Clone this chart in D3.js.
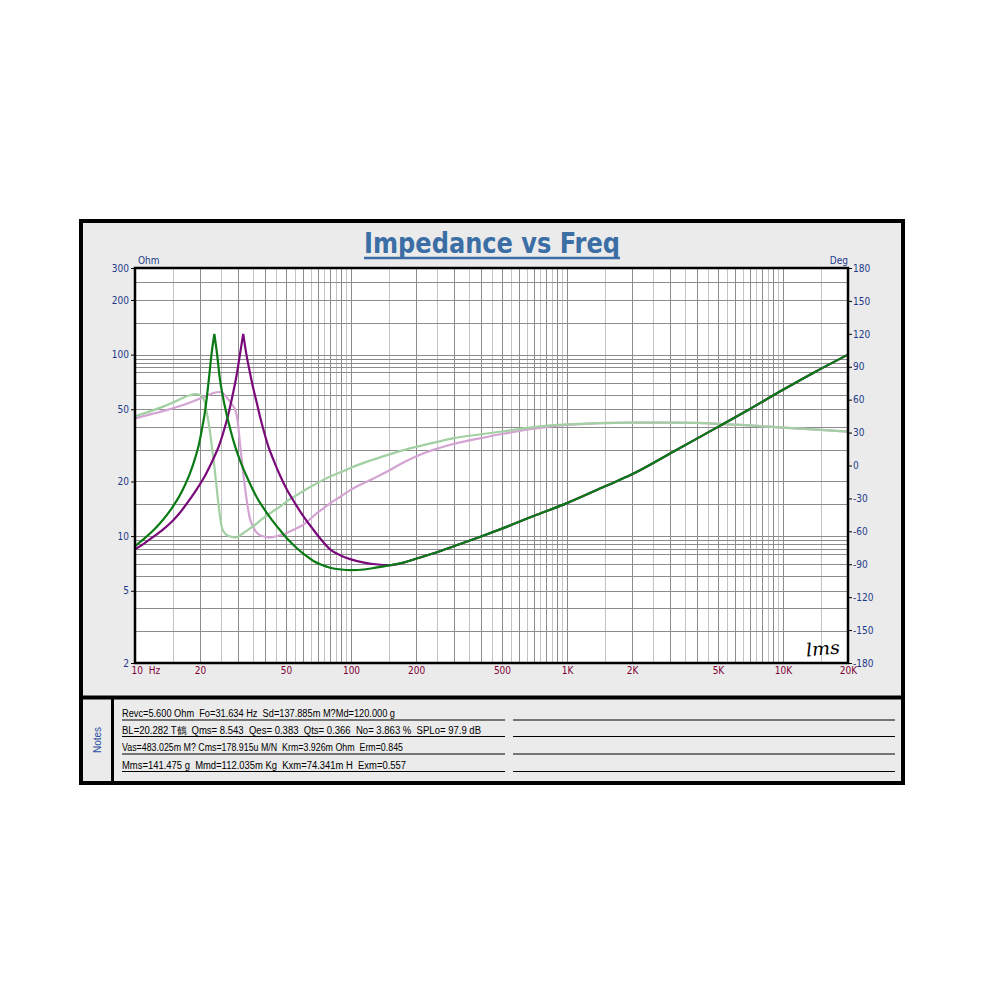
<!DOCTYPE html>
<html><head><meta charset="utf-8">
<script src="https://cdn.jsdelivr.net/npm/d3@7"></script>
<style>body{margin:0;background:#fff}</style>
</head><body>
<svg id="c" width="1000" height="1000"></svg>
<script>
// ---------- data ----------
const chartTitle = "Impedance vs Freq";
const ohmTicks = [2, 5, 10, 20, 50, 100, 200, 300];
const degTicks = [-180, -150, -120, -90, -60, -30, 0, 30, 60, 90, 120, 150, 180];
const freqTicks = [10, 20, 50, 100, 200, 500, 1000, 2000, 5000, 10000, 20000];
const freqTickLabels = ["10  Hz", "20", "50", "100", "200", "500", "1K", "2K", "5K", "10K", "20K"];
const ohmGridValues = [3, 4, 5, 6, 7, 8, 8.5, 9, 9.5, 10, 15, 20, 30, 40, 50, 60, 70, 80, 85, 90, 95, 100, 150, 200, 250];

// Impedance magnitude, added-mass measurement (dark green), Ohm
const zGreenFreq = [10, 11, 12, 13, 14, 15, 16, 17, 18, 19, 19.7, 20.4, 21, 21.5, 22, 22.6, 23.3, 24, 24.7, 25.5, 26.6, 27.5, 29, 30.5, 32.9, 35, 37, 39.3, 43, 46.9, 51, 56, 61, 67, 73, 80, 90, 100, 115, 130, 150, 175, 200, 250, 300, 400, 500, 700, 1000, 1500, 2000, 3000, 5000, 7000, 10000, 14000, 20000];
const zGreen     = [8.8, 9.65, 10.6, 11.7, 13.0, 14.6, 16.5, 19.0, 22.3, 27.0, 31.5, 38.7, 47, 58, 74, 100, 130, 100, 74, 59, 46.5, 39.5, 31.5, 26.5, 21.3, 18.2, 16, 14.3, 12.3, 10.8, 9.6, 8.6, 7.9, 7.3, 6.95, 6.7, 6.55, 6.5, 6.55, 6.7, 6.9, 7.15, 7.5, 8.15, 8.8, 9.95, 11.0, 12.9, 15.2, 18.8, 21.9, 28.5, 40, 50, 64, 80, 100];

// Impedance magnitude, free-air measurement (purple), Ohm
const zPurpleFreq = [10, 11, 12, 13.5, 15, 16.1, 17.5, 19.3, 21, 23, 24.5, 25.6, 26.6, 27.5, 28.5, 29.6, 30.6, 31.7, 32.8, 34.1, 35.3, 36.6, 38, 39.3, 41.5, 43.7, 47, 50.4, 55, 60.1, 66, 71.8, 80, 90, 100, 115, 130, 150, 175, 200, 250, 300, 400, 500, 700, 1000, 1500, 2000, 3000, 5000, 7000, 10000, 14000, 20000];
const zPurple     = [8.45, 9.1, 9.8, 10.9, 12.2, 13.4, 15.3, 18.1, 21.3, 26.5, 31.5, 37, 43.5, 51, 62, 78, 100, 130, 100, 79, 65, 54.4, 45, 38.7, 31, 26.4, 21.5, 18.1, 15.2, 12.9, 11.1, 9.75, 8.45, 7.8, 7.45, 7.15, 7.0, 6.92, 7.15, 7.5, 8.15, 8.8, 9.95, 11.0, 12.9, 15.2, 18.8, 21.9, 28.5, 40, 50, 64, 80, 100];

// Phase, added-mass measurement (light green), degrees
const pGreenFreq = [10, 11, 12, 13, 14, 15, 16, 17, 18, 19, 20, 20.6, 21.1, 21.6, 22.2, 22.8, 23.4, 24.3, 25.2, 25.9, 26.6, 28, 29.6, 31, 32.9, 36, 39.3, 43, 46.9, 51, 56.1, 61, 66.9, 73, 80, 90, 100, 125, 150, 175, 200, 250, 300, 400, 500, 700, 1000, 2000, 3000, 5000, 7000, 10000, 15000, 20000];
const pGreen     = [45, 47.5, 50, 52.5, 55, 57.5, 60, 62.5, 64, 65, 64.5, 62, 57, 46, 32, 14, -4, -34, -56, -61, -63.5, -65, -65.5, -63, -59.5, -54, -48, -42.5, -37.5, -32, -27, -22.5, -18, -14, -10, -6, -2, 5, 10, 14, 17, 21.5, 25, 28.5, 31, 35, 37.5, 39, 39, 38, 36.5, 34.5, 32.5, 30.8];

// Phase, free-air measurement (light purple), degrees
const pPurpleFreq = [10, 12, 14, 16, 18, 20, 22, 23.5, 24.5, 25.5, 26.6, 27.6, 28.5, 29.2, 29.8, 30.6, 31.7, 32.9, 34, 35.3, 36.5, 37.9, 40, 42.4, 46, 50.4, 55, 60.1, 64.5, 69.3, 74.5, 80, 90, 100, 125, 150, 175, 200, 225, 250, 300, 400, 500, 700, 1000, 2000, 3000, 5000, 7000, 10000, 15000, 20000];
const pPurple     = [43, 47, 50.5, 54, 57.5, 61, 64.5, 66.5, 67, 66, 62, 58, 54, 50, 42, 20.5, -7, -31.5, -48, -56, -61, -63.5, -65, -65.5, -64, -61.5, -58, -54, -49, -43.6, -39, -34.5, -28, -22, -12.5, -4.5, 2.8, 8.2, 12.3, 15.3, 19.8, 25, 28.7, 33.5, 37, 39, 39, 38, 36.5, 34.5, 32.5, 30.8];

const notesLines = [
  "Revc=5.600 Ohm  Fo=31.634 Hz  Sd=137.885m M?Md=120.000 g",
  "BL=20.282 T鶴  Qms= 8.543  Qes= 0.383  Qts= 0.366  No= 3.863 %  SPLo= 97.9 dB",
  "Vas=483.025m M? Cms=178.915u M/N  Krm=3.926m Ohm  Erm=0.845",
  "Mms=141.475 g  Mmd=112.035m Kg  Kxm=74.341m H  Exm=0.557"
];
const notesWidths = [273, 359, 281, 284];

// ---------- layout ----------
const svg = d3.select("#c");
const P = {l: 135, r: 848, t: 268, b: 663};
const narrow = "'Liberation Sans Narrow','DejaVu Sans Condensed','Arial Narrow',Arial,sans-serif";
const sans = "'Liberation Sans',Arial,sans-serif";

// panel
svg.append("rect").attr("x", 81).attr("y", 221).attr("width", 822).attr("height", 562)
  .attr("fill", "#ebebeb").attr("stroke", "#000").attr("stroke-width", 4);
svg.append("line").attr("x1", 81).attr("x2", 903).attr("y1", 697.5).attr("y2", 697.5)
  .attr("stroke", "#000").attr("stroke-width", 4);
svg.append("line").attr("x1", 112.5).attr("x2", 112.5).attr("y1", 697).attr("y2", 782)
  .attr("stroke", "#000").attr("stroke-width", 3);

// scales
const x = d3.scaleLog().domain([10, 20000]).range([P.l, P.r]);
const yZ = d3.scaleLog().domain([2, 300]).range([P.b, P.t]);
const yP = d3.scaleLinear().domain([-180, 180]).range([P.b, P.t]);

// plot background
svg.append("rect").attr("x", P.l).attr("y", P.t).attr("width", P.r - P.l).attr("height", P.b - P.t).attr("fill", "#fff");

// vertical grid: 1.0, 1.5, ... 9.5 per decade
const vGrid = [];
[10, 100, 1000, 10000].forEach(dec => {
  for (let k = 2; k < 20; k++) {
    const f = dec * k / 2;
    if (f > 10 && f < 20000) vGrid.push({f, major: k % 2 === 0});
  }
});
const g = svg.append("g");
g.selectAll("line.v").data(vGrid).join("line")
  .attr("x1", d => Math.round(x(d.f)) + 0.5).attr("x2", d => Math.round(x(d.f)) + 0.5)
  .attr("y1", P.t).attr("y2", P.b)
  .attr("stroke", d => d.major ? "#8c8c8c" : "#c4c4c4").attr("stroke-width", 1);
g.selectAll("line.h").data(ohmGridValues).join("line")
  .attr("y1", d => Math.round(yZ(d)) + 0.5).attr("y2", d => Math.round(yZ(d)) + 0.5)
  .attr("x1", P.l).attr("x2", P.r)
  .attr("stroke", "#8c8c8c").attr("stroke-width", 1);

// curves
svg.append("clipPath").attr("id", "pc").append("rect")
  .attr("x", P.l).attr("y", P.t).attr("width", P.r - P.l).attr("height", P.b - P.t);
const cg = svg.append("g").attr("clip-path", "url(#pc)");
const lineZ = d3.line().x(d => x(d[0])).y(d => yZ(d[1])).curve(d3.curveMonotoneX);
const lineP = d3.line().x(d => x(d[0])).y(d => yP(d[1])).curve(d3.curveMonotoneX);
const zip = (a, b) => a.map((v, i) => [v, b[i]]);
// impedance drawn as two smooth halves meeting at the sharp resonance peak
function peakPath(fr, z) {
  const pts = zip(fr, z);
  const k = d3.maxIndex(z);
  return lineZ(pts.slice(0, k + 1)) + lineZ(pts.slice(k));
}
cg.append("path").attr("d", lineP(zip(pPurpleFreq, pPurple))).attr("fill", "none").attr("stroke", "#d3a3d3").attr("stroke-width", 2.2);
cg.append("path").attr("d", lineP(zip(pGreenFreq, pGreen))).attr("fill", "none").attr("stroke", "#a3d0a3").attr("stroke-width", 2.2);
cg.append("path").attr("d", peakPath(zPurpleFreq, zPurple)).attr("fill", "none").attr("stroke", "#7a0a7a").attr("stroke-width", 2.2).attr("stroke-linejoin", "round");
cg.append("path").attr("d", peakPath(zGreenFreq, zGreen)).attr("fill", "none").attr("stroke", "#0a7a14").attr("stroke-width", 2.2).attr("stroke-linejoin", "round");

// frame
svg.append("rect").attr("x", P.l).attr("y", P.t).attr("width", P.r - P.l).attr("height", P.b - P.t)
  .attr("fill", "none").attr("stroke", "#000").attr("stroke-width", 2.5);

// axes
const axL = svg.append("g").attr("transform", `translate(${P.l - 1},0)`)
  .call(d3.axisLeft(yZ).tickValues(ohmTicks).tickFormat(d => d).tickSize(3).tickPadding(2));
const axR = svg.append("g").attr("transform", `translate(${P.r + 1},0)`)
  .call(d3.axisRight(yP).tickValues(degTicks).tickFormat(d => d).tickSize(3).tickPadding(1));
const axB = svg.append("g").attr("transform", `translate(0,${P.b})`)
  .call(d3.axisBottom(x).tickValues(freqTicks).tickFormat((d, i) => freqTickLabels[i]).tickSize(0).tickPadding(4));
[axL, axR, axB].forEach(a => { a.select(".domain").remove(); a.selectAll("text").attr("font-family", narrow).attr("font-size", 10); });
axL.selectAll("line").attr("stroke", "#000");
axR.selectAll("line").attr("stroke", "#000");
axL.selectAll("text").attr("fill", "#1c3a8a");
axR.selectAll("text").attr("fill", "#1c3a8a");
axB.selectAll("text").attr("fill", "#800036").style("white-space", "pre");
axB.selectAll("text").filter((d, i) => i === 0).attr("text-anchor", "start").attr("dx", -4);

svg.append("text").attr("x", 138).attr("y", 264).text("Ohm")
  .attr("font-family", narrow).attr("font-size", 10).attr("fill", "#1c3a8a");
svg.append("text").attr("x", 848).attr("y", 264).attr("text-anchor", "end").text("Deg")
  .attr("font-family", narrow).attr("font-size", 10).attr("fill", "#1c3a8a");

// title
svg.append("text").attr("x", 364).attr("y", 253).text(chartTitle)
  .attr("font-family", narrow).attr("font-weight", "bold").attr("font-size", 28)
  .attr("fill", "#3b6ea5").attr("textLength", 256).attr("lengthAdjust", "spacingAndGlyphs");
svg.append("line").attr("x1", 364).attr("x2", 620).attr("y1", 258).attr("y2", 258)
  .attr("stroke", "#3b6ea5").attr("stroke-width", 2.5);

// LMS mark
svg.append("text").attr("x", 806).attr("y", 655).text("lms")
  .attr("font-family", "'DejaVu Serif',serif").attr("font-style", "italic").attr("font-size", 18)
  .attr("fill", "#000").attr("textLength", 34).attr("lengthAdjust", "spacingAndGlyphs")
  .attr("transform", "rotate(-5,822,650)");

// notes
svg.append("text").attr("transform", "translate(101,740) rotate(-90)").attr("text-anchor", "middle")
  .text("Notes").attr("font-family", sans).attr("font-size", 10).attr("fill", "#2a4fa0");
const rowY = [719.5, 736, 753.5, 771];
const ng = svg.append("g");
ng.selectAll("text").data(notesLines).join("text")
  .attr("x", 122).attr("y", (d, i) => rowY[i] - 2.5).text(d => d)
  .attr("font-family", sans).attr("font-size", 10).attr("fill", "#000")
  .attr("textLength", (d, i) => notesWidths[i]).attr("lengthAdjust", "spacingAndGlyphs")
  .style("white-space", "pre");
ng.selectAll("line.a").data(rowY).join("line").attr("class", "a")
  .attr("x1", 122).attr("x2", 505).attr("y1", d => d + 0.5).attr("y2", d => d + 0.5)
  .attr("stroke", "#000").attr("stroke-width", 1);
ng.selectAll("line.b").data(rowY).join("line").attr("class", "b")
  .attr("x1", 513).attr("x2", 895).attr("y1", d => d + 0.5).attr("y2", d => d + 0.5)
  .attr("stroke", "#000").attr("stroke-width", 1);
</script>
</body></html>
